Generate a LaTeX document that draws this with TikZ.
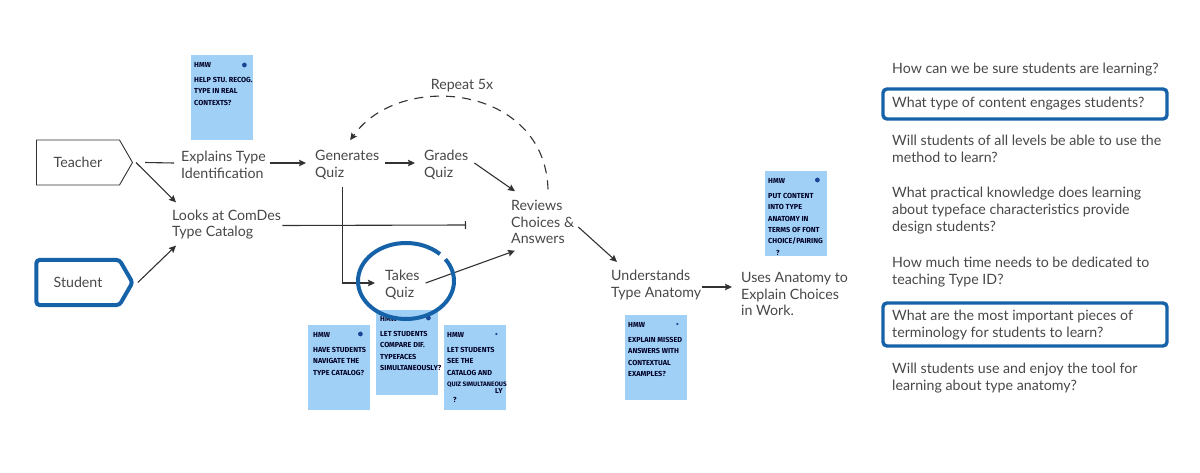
\documentclass[tikz,border=0pt]{standalone}
\usepackage{fontspec}
\setmainfont{Lato}
\newfontfamily\hand{Fira Sans}
\usepackage{tikz}
\usetikzlibrary{positioning, arrows.meta, shapes.symbols, calc}

\definecolor{txtgray}{RGB}{72,72,72}
\definecolor{linegray}{RGB}{50,50,50}
\definecolor{hlblue}{RGB}{22,98,168}
\definecolor{notebl}{RGB}{160,208,246}
\definecolor{dotbl}{RGB}{25,70,150}

\tikzset{
  lbl/.style={anchor=west, align=left, inner sep=0, text=txtgray, font=\fontsize{14.2}{16.8}\selectfont},
  actor/.style={signal, signal to=east, signal pointer angle=120, minimum width=96pt, minimum height=45pt, inner sep=0, text=txtgray, font=\fontsize{14.2}{16}\selectfont},
  link/.style={draw=linegray, line width=1.1pt},
  flow/.style={link, -{Stealth[length=7pt, width=6.5pt, inset=1pt]}},
  notebox/.style={fill=notebl, minimum width=62pt, minimum height=85pt, anchor=north west, inner sep=0},
  notetxt/.style={anchor=north west, align=left, inner sep=0, text=black!85!blue, font=\hand\bfseries\fontsize{7.3}{11.3}\selectfont},
  hl/.style={draw=hlblue, line width=4pt}
}

\begin{document}
\begin{tikzpicture}[x=1pt, y=-1pt]
\fill[white] (0,0) rectangle (1200,473);
\useasboundingbox (0,0) rectangle (1200,473);

% actors
\node[actor, draw=linegray, line width=0.9pt] (teacher) at (78,162.5) {Teacher};
\node[actor, hl, rounded corners=3pt] (student) at (78,282.5) {Student};

% process steps
\node[lbl] (explain) at (181,165) {Explains Type\\Identification};
\node[lbl] (looks) at (172,224.5) {Looks at ComDes\\Type Catalog};
\node[lbl] (generate) at (315,165) {Generates\\Quiz};
\node[lbl] (grade) at (424,165) {Grades\\Quiz};
\node[lbl] (review) at (511,222) {Reviews\\Choices \&\\Answers};
\node[lbl] (takes) at (385,285) {Takes\\Quiz};
\node[lbl] (under) at (611,285) {Understands\\Type Anatomy};
\node[lbl] (uses) at (741,294) {Uses Anatomy to\\Explain Choices\\in Work.};
\node[lbl, anchor=center] (repeat) at (462,86) {Repeat 5x};
\coordinate (teeend) at (466,225);

% HMW notes
\node[notebox] (n_1) at (191,55) {};
\node[notetxt] at ([shift={(3pt,-7pt)}]n_1.north west) {HMW\\[4pt]HELP STU. RECOG.\\TYPE IN REAL\\CONTEXTS?};
\fill[dotbl] ([shift={(-9pt,-10pt)}]n_1.north east) circle (2.4pt);

\node[notebox] (n_2) at (308,325) {};
\node[notetxt] at ([shift={(5pt,-7pt)}]n_2.north west) {HMW\\[4pt]HAVE STUDENTS\\NAVIGATE THE\\TYPE CATALOG?};
\fill[dotbl] ([shift={(-10pt,-9pt)}]n_2.north east) circle (2.4pt);

\node[notebox] (n_3) at (376,310) {};
\node[notetxt] at ([shift={(4pt,-6pt)}]n_3.north west) {HMW\\[4pt]LET STUDENTS\\COMPARE DIF.\\TYPEFACES\\SIMULTANEOUSLY?};
\fill[dotbl] ([shift={(-10pt,-8pt)}]n_3.north east) circle (2.4pt);

\node[notebox] (n_4) at (444,325) {};
\node[notetxt] at ([shift={(3pt,-7pt)}]n_4.north west) {HMW\\[4pt]LET STUDENTS\\SEE THE\\CATALOG AND\\{\fontsize{6.4}{11.3}\selectfont QUIZ SIMULTANEOUS}\\[-4pt]\hspace*{48pt}LY\\[-3pt]\hspace*{6pt}?};
\fill[dotbl] ([shift={(-10pt,-9pt)}]n_4.north east) circle (1.2pt);

\node[notebox] (n_5) at (625,315) {};
\node[notetxt] at ([shift={(3pt,-7pt)}]n_5.north west) {HMW\\[4pt]EXPLAIN MISSED\\ANSWERS WITH\\CONTEXTUAL\\EXAMPLES?};
\fill[dotbl] ([shift={(-10pt,-9pt)}]n_5.north east) circle (1.2pt);

\node[notebox] (n_6) at (765,171) {};
\node[notetxt] at ([shift={(3pt,-7pt)}]n_6.north west) {HMW\\[4pt]PUT CONTENT\\INTO TYPE\\ANATOMY IN\\TERMS OF FONT\\CHOICE/PAIRING\\\hspace*{8pt}?};
\fill[dotbl] ([shift={(-10pt,-9pt)}]n_6.north east) circle (2.4pt);

% connectors
\draw[link] ([xshift=12pt]teacher.east) -- ([shift={(-7pt,2pt)}]explain.west);
\draw[flow] ([xshift=3pt]teacher.east) -- ([shift={(4pt,7pt)}]looks.north west);
\draw[flow] ([xshift=3pt]student.east) -- ([shift={(4pt,-6pt)}]looks.south west);
\draw[flow] ([shift={(4pt,2pt)}]explain.east) -- ([shift={(-9pt,2pt)}]generate.west);
\draw[flow] ([shift={(6pt,2pt)}]generate.east) -- ([shift={(-9pt,2pt)}]grade.west);
\draw[flow] ([shift={(6pt,2pt)}]grade.east) -- ([shift={(4pt,8.5pt)}]review.north west);
\draw[flow, dash pattern=on 9pt off 7pt] ([shift={(37pt,10.5pt)}]review.north west) .. controls (545,85) and (400,70) .. ([shift={(3pt,10pt)}]generate.north);
\draw[link, -{Bar[width=8pt]}] ([shift={(1pt,-1pt)}]looks.east) -- (teeend);
\draw[flow] ([shift={(-5pt,-7pt)}]generate.south) |- ([shift={(-10pt,2pt)}]takes.west);
\draw[flow] ([shift={(6pt,2pt)}]takes.east) -- ([shift={(4pt,-6.5pt)}]review.south west);
\draw[flow] ([shift={(4pt,-5pt)}]review.east) -- ([shift={(6pt,8pt)}]under.north west);
\draw[flow] ([shift={(1pt,-2pt)}]under.east) -- ([shift={(-9pt,7pt)}]uses.west);

% loop round the quiz
\coordinate (loop) at (406,281);
\draw[hl] ([shift={(45:48pt and 38pt)}]loop) arc[start angle=45, end angle=395, x radius=48pt, y radius=38pt];

% questions
\node[lbl] (q_1) at (892,70) {How can we be sure students are learning?};
\node[lbl] (q_2) at (892,104) {What type of content engages students?};
\node[lbl] (q_3) at (892,149) {Will students of all levels be able to use the\\method to learn?};
\node[lbl] (q_4) at (892,210.5) {What practical knowledge does learning\\about typeface characteristics provide\\design students?};
\node[lbl] (q_5) at (892,272) {How much time needs to be dedicated to\\teaching Type ID?};
\node[lbl] (q_6) at (892,325) {What are the most important pieces of\\terminology for students to learn?};
\node[lbl] (q_7) at (892,378) {Will students use and enjoy the tool for\\learning about type anatomy?};
\draw[hl, line width=3.4pt, rounded corners=4pt] (883,89) rectangle (1167,119);
\draw[hl, line width=3.4pt, rounded corners=4pt] (883,303) rectangle (1167,346);
\end{tikzpicture}
\end{document}
